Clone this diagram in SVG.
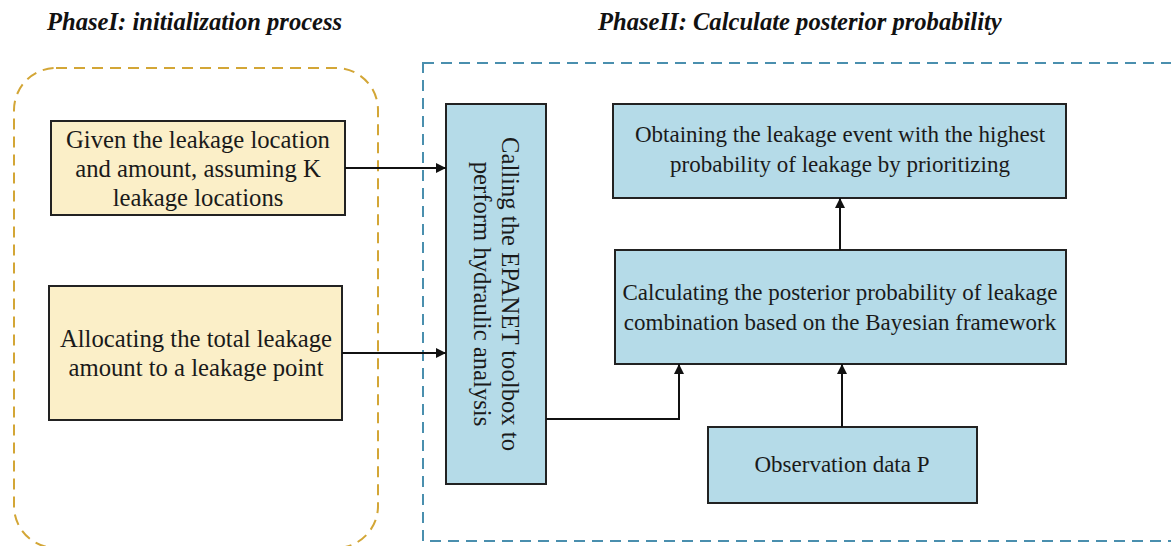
<svg xmlns="http://www.w3.org/2000/svg" width="1171" height="546" viewBox="0 0 1171 546">
<style>
.title{font-family:"Liberation Serif","Times New Roman",serif;font-size:24.6px;font-weight:bold;font-style:italic;fill:#111}
.t{font-family:"Liberation Serif","Times New Roman",serif;font-size:23px;fill:#1a1a1a;text-anchor:middle}
.big{font-size:24.7px}
.yb{fill:#FBEFC8;stroke:#222;stroke-width:2}
.bb{fill:#B5DBE8;stroke:#222;stroke-width:2}
.c{fill:none;stroke:#111;stroke-width:2}
</style>
<defs>
<marker id="ah" viewBox="0 0 10 10" refX="10" refY="5" markerWidth="5" markerHeight="5" orient="auto" markerUnits="strokeWidth">
<path d="M0,0 L10,5 L0,10 z" fill="#111"/>
</marker>
</defs>
<rect width="1171" height="546" fill="#fff"/>
<text class="title" x="47" y="30">PhaseI: initialization process</text>
<text class="title" x="598" y="30">PhaseII: Calculate posterior probability</text>
<g id="phase1">
<rect x="14" y="68" width="364" height="480" rx="42" fill="none" stroke="#D3A636" stroke-width="2" stroke-dasharray="11,7"/>
</g>
<g id="phase2">
<rect x="423" y="63" width="760" height="478" fill="none" stroke="#4A8FAE" stroke-width="2" stroke-dasharray="11,7"/>
</g>
<g id="given">
<rect class="yb" x="51" y="121" width="294" height="94"/>
<text class="t big" x="198" y="148">Given the leakage location</text>
<text class="t big" x="198" y="177">and amount, assuming K</text>
<text class="t big" x="198" y="206">leakage locations</text>
</g>
<g id="allocating">
<rect class="yb" x="49" y="286" width="293" height="134"/>
<text class="t big" x="196" y="347">Allocating the total leakage</text>
<text class="t big" x="196" y="376">amount to a leakage point</text>
</g>
<g id="epanet">
<rect class="bb" x="446" y="104" width="100" height="380"/>
<text class="t big" transform="translate(496,294) rotate(90)" x="0" y="-6">Calling the EPANET toolbox to</text>
<text class="t big" transform="translate(496,294) rotate(90)" x="0" y="22">perform hydraulic analysis</text>
</g>
<g id="obtaining">
<rect class="bb" x="613" y="104" width="453" height="94"/>
<text class="t" x="840" y="142">Obtaining the leakage event with the highest</text>
<text class="t" x="840" y="172">probability of leakage by prioritizing</text>
</g>
<g id="calculating">
<rect class="bb" x="615" y="250" width="451" height="114"/>
<text class="t" x="840" y="300">Calculating the posterior probability of leakage</text>
<text class="t" x="840" y="330">combination based on the Bayesian framework</text>
</g>
<g id="observation">
<rect class="bb" x="708" y="427" width="269" height="76"/>
<text class="t" x="842" y="472">Observation data P</text>
</g>
<g id="connectors">
<path class="c" d="M345,168 H446" marker-end="url(#ah)"/>
<path class="c" d="M342,353 H446" marker-end="url(#ah)"/>
<path class="c" d="M546,419 H679 V364" marker-end="url(#ah)"/>
<path class="c" d="M842,427 V364" marker-end="url(#ah)"/>
<path class="c" d="M840,250 V198" marker-end="url(#ah)"/>
</g>
</svg>
